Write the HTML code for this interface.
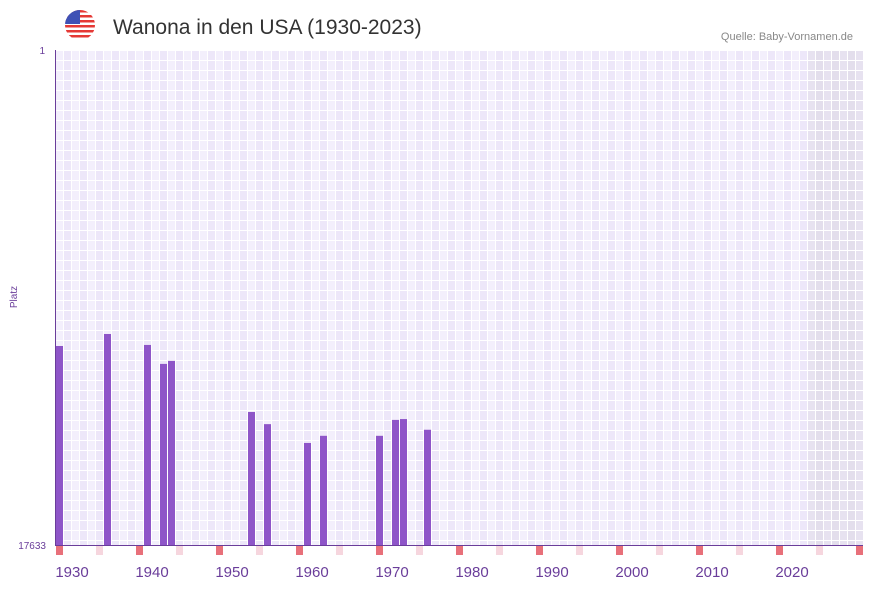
<!DOCTYPE html>
<html><head><meta charset="utf-8"><style>
body{margin:0;background:#fff;font-family:"Liberation Sans",sans-serif;}
svg text{font-family:"Liberation Sans",sans-serif;}
</style></head><body>
<svg id="chart" width="873" height="587" viewBox="0 0 873 587" xmlns="http://www.w3.org/2000/svg">
<g>
<clipPath id="fc"><circle cx="80" cy="25" r="15"/></clipPath>
<g clip-path="url(#fc)">
<rect x="65" y="10" width="30" height="30" fill="#fff"/>
<rect x="65" y="10" width="30" height="2.5" fill="#e53935"/>
<rect x="65" y="15" width="30" height="2.5" fill="#e53935"/>
<rect x="65" y="20" width="30" height="2.5" fill="#e53935"/>
<rect x="65" y="25" width="30" height="2.5" fill="#e53935"/>
<rect x="65" y="30" width="30" height="2.5" fill="#e53935"/>
<rect x="65" y="35" width="30" height="2.5" fill="#e53935"/>
<rect x="65" y="10" width="15" height="14" fill="#3f51b5"/>
</g></g>
<text x="113" y="34" font-size="21" fill="#333">Wanona in den USA (1930-2023)</text>
<text x="853" y="40" font-size="11" fill="#888" text-anchor="end">Quelle: Baby-Vornamen.de</text>
<g id="grid"></g>
<g id="bars"></g>
<g id="markers"></g>
<line x1="55.5" y1="50" x2="55.5" y2="545" stroke="#6a3d9a" stroke-width="1"/>
<line x1="55" y1="545.5" x2="863" y2="545.5" stroke="#6a3d9a" stroke-width="1"/>
<text x="45" y="54" font-size="10" fill="#6a3d9a" text-anchor="end">1</text>
<text x="46" y="549" font-size="10" fill="#6a3d9a" text-anchor="end">17633</text>
<text transform="translate(17,297) rotate(-90)" font-size="10" fill="#6a3d9a" text-anchor="middle">Platz</text>
<g id="xlabels"></g>
</svg>
<script>
const years = [1930,1936,1941,1943,1944,1954,1956,1961,1963,1970,1972,1973,1976];
const ranks = [346,273,339,493,464,1274,1620,2350,2040,2040,1490,1465,1810];
const tickYears = [1930,1940,1950,1960,1970,1980,1990,2000,2010,2020];
const maxRank = 17633;
const x0=55, yTop=50, yBot=545, pxYear=8, firstYear=1930, nYears=101;
const NS="http://www.w3.org/2000/svg";
function xs(yr){return x0+(yr-firstYear)*pxYear;}
function ys(r){return yTop+(yBot-yTop)*Math.log(r)/Math.log(maxRank);}
function mk(t,a,p){const e=document.createElementNS(NS,t);for(const k in a)e.setAttribute(k,a[k]);p.appendChild(e);return e;}
const grid=document.getElementById('grid');
for(let i=0;i<nYears;i++){
  const yr=firstYear+i;
  const fill = yr>=2024 ? (i%2?'#e3deec':'#e7e2f0') : (i%2?'#ede7f9':'#f3effc');
  for(let y=yTop;y<yBot;y+=10){
    const c=mk('rect',{x:xs(yr)+1,y:y+1,width:7,height:Math.min(9,yBot-y-1),fill:fill},grid);
    
    
  }
}
const bars=document.getElementById('bars');
years.forEach((yr,i)=>{
  const t=ys(ranks[i]);
  const b=mk('rect',{x:xs(yr)+1,y:t,width:7,height:yBot-t,fill:'#8e55c8'},bars);
  
  
});
const mg=document.getElementById('markers');
for(let yr=1930;yr<2031;yr+=5){
  const m=mk('rect',{x:xs(yr)+1,y:546,width:7,height:9,fill:(yr%10===0)?'#e8707a':'#f6d6de'},mg);
  
  
}
const xl=document.getElementById('xlabels');
tickYears.forEach(yr=>{
  const t=mk('text',{x:xs(yr)+17,y:577,'font-size':15,fill:'#6a3d9a','text-anchor':'middle'},xl);
  t.textContent=yr;
  
  
});
</script>
</body></html>
